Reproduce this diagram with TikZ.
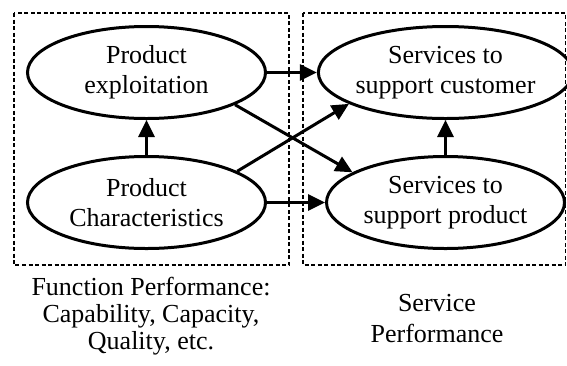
\documentclass[tikz,border=0pt]{standalone}
\usepackage{fontspec}
\setmainfont{Liberation Serif}
\usetikzlibrary{arrows.meta,shapes.geometric}
\begin{document}
\begin{tikzpicture}[x=1pt,y=-1pt,
  oval/.style={ellipse, draw, line width=3pt, minimum width=238pt, minimum height=92pt,
    inner sep=0pt, align=center, font=\fontsize{26}{30}\selectfont},
  arr/.style={line width=3pt, -{Triangle[length=17pt,width=16pt]}},
  zone/.style={draw, line width=1.3pt, dash pattern=on 4pt off 2.5pt},
  lab/.style={align=center, inner sep=0pt}]
\useasboundingbox (0,0) rectangle (567,365);
\draw[zone] (14,13) rectangle (289,265);
\draw[zone] (303,13) rectangle (565.5,265);
\node[oval] (pe) at (146.5,72.5) {Product\\exploitation};
\node[oval] (pc) at (146.5,202.5) {Product\\Characteristics};
\node[oval] (sc) at (445.5,72.5) {Services to\\support customer};
\node[oval] (sp) at (445.5,202.5) {Services to\\support product};
\draw[arr] (pc) -- (pe);
\draw[arr] (sp) -- (sc);
\draw[arr] (pe) -- (sc);
\draw[arr] (pc) -- (sp);
\draw[arr] (pe.-20) -- (sp.162);
\draw[arr] (pc.19) -- (sc.198);
\node[lab, font=\fontsize{26}{27}\selectfont] (fp) at (151,316) {Function Performance:\\Capability, Capacity,\\Quality, etc.};
\node[lab, font=\fontsize{26}{31}\selectfont] (spf) at (437,318.5) {Service\\Performance};
\end{tikzpicture}
\end{document}
